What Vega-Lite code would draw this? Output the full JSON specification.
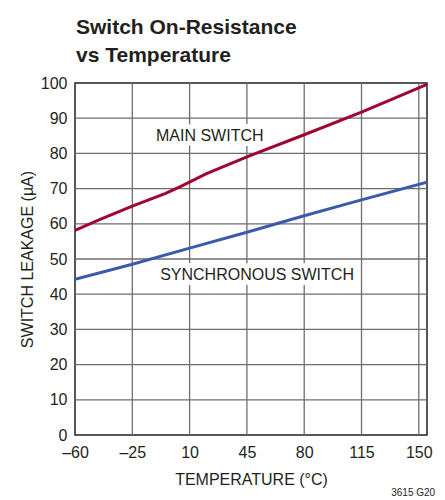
{
  "$schema": "https://vega.github.io/schema/vega-lite/v6.json",
  "width": 352,
  "height": 352,
  "autosize": {"type": "none"},
  "padding": {"left": 75, "top": 83, "right": 18, "bottom": 65},
  "background": "white",
  "title": {
    "text": ["Switch On-Resistance", "vs Temperature"],
    "anchor": "start",
    "frame": "group",
    "font": "Liberation Sans",
    "fontSize": 21,
    "fontWeight": "bold",
    "lineHeight": 28,
    "color": "#231f20",
    "offset": 9,
    "dx": 1
  },
  "config": {
    "view": {"stroke": "#231f20", "strokeWidth": 1.5},
    "font": "Liberation Sans",
    "axis": {
      "grid": false,
      "domain": false,
      "tickSize": 0,
      "labelOverlap": false,
      "labelFont": "Liberation Sans",
      "labelFontSize": 16,
      "labelColor": "#231f20",
      "titleFont": "Liberation Sans",
      "titleFontSize": 16,
      "titleFontWeight": "normal",
      "titleColor": "#231f20"
    }
  },
  "encoding": {
    "x": {
      "field": "temp",
      "type": "quantitative",
      "scale": {"domain": [-60, 155], "nice": false, "zero": false},
      "axis": {
        "values": [-60, -25, 10, 45, 80, 115, 150],
        "title": "TEMPERATURE (°C)",
        "labelPadding": 9,
        "titlePadding": 11,
        "labelExpr": "replace(datum.label, /[-−]/, '–')",
        "labelFlush": false
      }
    },
    "y": {
      "field": "leak",
      "type": "quantitative",
      "scale": {"domain": [0, 100], "nice": false},
      "axis": {
        "values": [0, 10, 20, 30, 40, 50, 60, 70, 80, 90, 100],
        "title": "SWITCH LEAKAGE (µA)",
        "labelPadding": 8,
        "titlePadding": 5
      }
    }
  },
  "layer": [
    {
      "data": {
        "values": [
          {"temp": -25, "temp2": -25, "leak": 0, "leak2": 100},
          {"temp": 10, "temp2": 10, "leak": 0, "leak2": 100},
          {"temp": 45, "temp2": 45, "leak": 0, "leak2": 100},
          {"temp": 80, "temp2": 80, "leak": 0, "leak2": 100},
          {"temp": 115, "temp2": 115, "leak": 0, "leak2": 100},
          {"temp": 150, "temp2": 150, "leak": 0, "leak2": 100},
          {"temp": -60, "temp2": 155, "leak": 10, "leak2": 10},
          {"temp": -60, "temp2": 155, "leak": 20, "leak2": 20},
          {"temp": -60, "temp2": 155, "leak": 30, "leak2": 30},
          {"temp": -60, "temp2": 155, "leak": 40, "leak2": 40},
          {"temp": -60, "temp2": 155, "leak": 50, "leak2": 50},
          {"temp": -60, "temp2": 155, "leak": 60, "leak2": 60},
          {"temp": -60, "temp2": 155, "leak": 70, "leak2": 70},
          {"temp": -60, "temp2": 155, "leak": 80, "leak2": 80},
          {"temp": -60, "temp2": 155, "leak": 90, "leak2": 90}
        ]
      },
      "mark": {"type": "rule", "color": "#6e6e6e", "strokeWidth": 1.3, "opacity": 1},
      "encoding": {
        "x2": {"field": "temp2"},
        "y2": {"field": "leak2"}
      }
    },
    {
      "data": {
        "values": [
          {"temp": -60, "leak": 58.1, "series": "MAIN SWITCH"},
          {"temp": -45, "leak": 61.2, "series": "MAIN SWITCH"},
          {"temp": -25, "leak": 65.0, "series": "MAIN SWITCH"},
          {"temp": -5, "leak": 68.6, "series": "MAIN SWITCH"},
          {"temp": 5, "leak": 70.7, "series": "MAIN SWITCH"},
          {"temp": 20, "leak": 74.2, "series": "MAIN SWITCH"},
          {"temp": 45, "leak": 79.0, "series": "MAIN SWITCH"},
          {"temp": 80, "leak": 85.3, "series": "MAIN SWITCH"},
          {"temp": 115, "leak": 91.7, "series": "MAIN SWITCH"},
          {"temp": 150, "leak": 98.6, "series": "MAIN SWITCH"},
          {"temp": 155, "leak": 99.6, "series": "MAIN SWITCH"},
          {"temp": -60, "leak": 44.2, "series": "SYNCHRONOUS SWITCH"},
          {"temp": -25, "leak": 48.5, "series": "SYNCHRONOUS SWITCH"},
          {"temp": 10, "leak": 53.1, "series": "SYNCHRONOUS SWITCH"},
          {"temp": 45, "leak": 57.6, "series": "SYNCHRONOUS SWITCH"},
          {"temp": 80, "leak": 62.3, "series": "SYNCHRONOUS SWITCH"},
          {"temp": 115, "leak": 66.8, "series": "SYNCHRONOUS SWITCH"},
          {"temp": 155, "leak": 71.8, "series": "SYNCHRONOUS SWITCH"}
        ]
      },
      "mark": {"type": "line", "strokeWidth": 3, "clip": true},
      "encoding": {
        "color": {
          "field": "series",
          "type": "nominal",
          "scale": {"domain": ["MAIN SWITCH", "SYNCHRONOUS SWITCH"], "range": ["#a0052f", "#3a5bab"]},
          "legend": null
        }
      }
    },
    {
      "data": {
        "values": [
          {"temp": 22.3, "leak": 85, "label": "MAIN SWITCH"},
          {"temp": 51.2, "leak": 45.4, "label": "SYNCHRONOUS SWITCH"}
        ]
      },
      "mark": {"type": "text", "font": "Liberation Sans", "fontSize": 16, "color": "#231f20", "align": "center", "baseline": "middle", "stroke": "white", "strokeWidth": 10, "strokeJoin": "round"},
      "encoding": {
        "text": {"field": "label"}
      }
    },
    {
      "data": {
        "values": [
          {"temp": 22.3, "leak": 85, "label": "MAIN SWITCH"},
          {"temp": 51.2, "leak": 45.4, "label": "SYNCHRONOUS SWITCH"}
        ]
      },
      "mark": {"type": "text", "font": "Liberation Sans", "fontSize": 16, "color": "#231f20", "align": "center", "baseline": "middle"},
      "encoding": {
        "text": {"field": "label"}
      }
    },
    {
      "data": {"values": [{"temp": 160, "leak": -16.5, "label": "3615 G20"}]},
      "mark": {"type": "text", "font": "Liberation Sans", "fontSize": 10, "color": "#231f20", "align": "right", "baseline": "middle", "clip": false},
      "encoding": {
        "text": {"field": "label"}
      }
    }
  ]
}
